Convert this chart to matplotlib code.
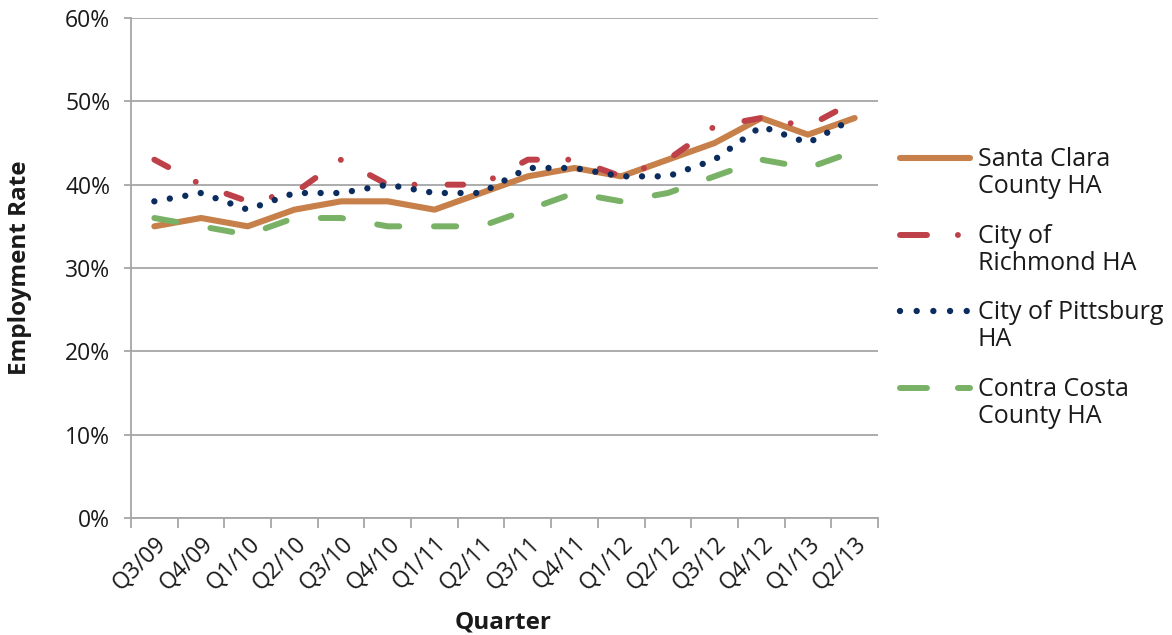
import matplotlib
matplotlib.use("Agg")
import matplotlib.pyplot as plt
from matplotlib.lines import Line2D
from matplotlib.ticker import FixedLocator, PercentFormatter

plt.rcParams["font.family"] = ["Open Sans", "DejaVu Sans"]
plt.rcParams["lines.scale_dashes"] = False

QUARTERS = ["Q3/09", "Q4/09", "Q1/10", "Q2/10", "Q3/10", "Q4/10", "Q1/11", "Q2/11",
            "Q3/11", "Q4/11", "Q1/12", "Q2/12", "Q3/12", "Q4/12", "Q1/13", "Q2/13"]

# employment rate, percent
SANTA_CLARA = [35, 36, 35, 37, 38, 38, 37, 39, 41, 42, 41, 43, 45, 48, 46, 48]
RICHMOND = [43, 40, 38, 39, 43, 40, 40, 40, 43, 43, 41, 43, 47, 48, 47, 50]
PITTSBURG = [38, 39, 37, 39, 39, 40, 39, 39, 42, 42, 41, 41, 43, 47, 45, 48]
CONTRA_COSTA = [36, 35, 34, 36, 36, 35, 35, 35, 37, 39, 38, 39, 41, 43, 42, 44]

LABELS = ["Santa Clara\nCounty HA", "City of\nRichmond HA",
          "City of Pittsburg\nHA", "Contra Costa\nCounty HA"]

ORANGE = "#C8804A"
RED = "#BE4149"
NAVY = "#0B2C5F"
GREEN = "#79B266"
GRAY = "#A6A6A6"
TEXT = "#1a1a1a"

# (color, width, plot linestyle, legend linestyle)
STYLES = [
    (ORANGE, 4.4, "-", "-"),
    (RED, 4.3, (0, (11.3, 22.5, 0.01, 23.8)), (0, (19.4, 22.3, 0.01, 40))),
    (NAVY, 4.6, (0, (0.01, 11.3)), (0, (0.01, 12.0))),
    (GREEN, 4.3, (0, (16.0, 25.0)), (0, (19.4, 22.3))),
]

W, H = 1172, 635
fig = plt.figure(figsize=(W / 100, H / 100), dpi=100)
ax = fig.add_axes([131 / W, 1 - 518 / H, (878 - 131) / W, 500 / H])

x = list(range(len(QUARTERS)))
for values, (color, lw, ls, _) in zip([SANTA_CLARA, RICHMOND, PITTSBURG, CONTRA_COSTA], STYLES):
    ax.plot(x, values, color=color, lw=lw, linestyle=ls,
            solid_capstyle="round", dash_capstyle="round",
            solid_joinstyle="round", dash_joinstyle="round", zorder=3)

ax.set_xlim(-0.5, len(QUARTERS) - 0.5)
ax.set_ylim(0, 60)
ax.yaxis.set_major_locator(FixedLocator(range(0, 61, 10)))
ax.yaxis.set_major_formatter(PercentFormatter(xmax=100, decimals=0))
ax.set_xticks(x)
ax.set_xticklabels(QUARTERS, rotation=45, ha="right", rotation_mode="anchor")
ax.xaxis.set_minor_locator(FixedLocator([i - 0.5 for i in range(len(QUARTERS) + 1)]))

ax.tick_params(axis="x", which="major", length=0, pad=10, labelsize=16.5, labelcolor=TEXT)
ax.tick_params(axis="x", which="minor", length=7, width=1.3, color=GRAY)
ax.tick_params(axis="y", length=5, width=1.3, color=GRAY, pad=10, labelsize=16.5, labelcolor=TEXT)

ax.yaxis.grid(True, color=GRAY, lw=1.3)
ax.set_axisbelow(True)
for side in ["top", "right"]:
    ax.spines[side].set_visible(False)
for side in ["left", "bottom"]:
    ax.spines[side].set_color(GRAY)
    ax.spines[side].set_linewidth(1.3)

ax.set_ylabel("Employment Rate", fontsize=17.5, fontweight="bold", color=TEXT)
ax.yaxis.set_label_coords(-0.133, 0.5)
ax.set_xlabel("Quarter", fontsize=17.5, fontweight="bold", color=TEXT)
ax.xaxis.set_label_coords(0.498, -0.184)

# legend, handle aligned with first text line
leg_y = [158, 235, 311, 388]
for yy, label, (color, lw, _, leg_ls) in zip(leg_y, LABELS, STYLES):
    fy = 1 - yy / H
    fig.add_artist(Line2D([900 / W, 970 / W], [fy, fy], transform=fig.transFigure,
                          color=color, lw=lw, linestyle=leg_ls,
                          solid_capstyle="round", dash_capstyle="round"))
    fig.text(978 / W, 1 - (yy + 15) / H, label, fontsize=18, va="center", ha="left",
             color=TEXT, linespacing=1.15)

fig.savefig("out.png", dpi=100)
